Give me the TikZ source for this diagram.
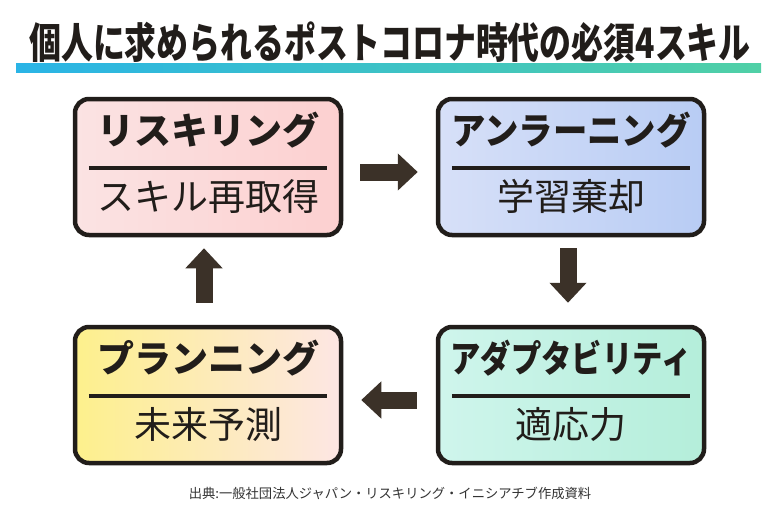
\documentclass[tikz,border=0pt]{standalone}
\usepackage{fontspec}
\usepackage{graphicx}
\setmainfont{Noto Sans CJK JP}
\usetikzlibrary{arrows.meta}
\usetikzlibrary{calc}
\definecolor{inkdark}{HTML}{211D1A}
\definecolor{arrowbrown}{HTML}{3B3128}
\definecolor{notegray}{HTML}{333333}
\definecolor{barblue}{HTML}{2AB4E6}
\definecolor{barteal}{HTML}{50D0A6}
\definecolor{pinkL}{HTML}{FBE3E3}
\definecolor{pinkR}{HTML}{FCD0D0}
\definecolor{blueL}{HTML}{D7E0F8}
\definecolor{blueR}{HTML}{B8CCF4}
\definecolor{yellowL}{HTML}{FDF08C}
\definecolor{yellowR}{HTML}{FDE6E4}
\definecolor{mintL}{HTML}{CFF5EC}
\definecolor{mintR}{HTML}{B4EEDA}
\tikzstyle{skillbox}=[draw=inkdark,line width=4.5pt,rounded corners=14pt,minimum width=266pt,minimum height=136pt,inner sep=0pt]
\tikzstyle{titletext}=[font=\bfseries\fontsize{42}{46}\selectfont,text=inkdark,inner sep=0pt]
\tikzstyle{headtext}=[font=\bfseries\fontsize{37}{40}\selectfont,text=inkdark,inner sep=0pt]
\tikzstyle{subtext}=[font=\fontsize{37}{40}\selectfont,text=inkdark,inner sep=0pt]
\tikzstyle{notetext}=[font=\fontsize{13.3}{15}\selectfont,text=notegray,inner sep=0pt]
\tikzstyle{divider}=[draw=inkdark,line width=4.5pt]
\tikzstyle{bigarrow}=[draw=arrowbrown,line width=17pt,-{Triangle[length=20pt,width=36pt]}]

\begin{document}
\begin{tikzpicture}[x=1pt,y=-1pt]
    \useasboundingbox[fill=white] (0,0) rectangle (780,507);
    % Title and the bar under it
    \node[titletext] (title) at (390,42) {\scalebox{0.76}[1]{個人に求められるポストコロナ時代の必須4スキル}};
    \shade[left color=barblue,right color=barteal] (16,63) rectangle (761,72);

    % First we draw the four boxes
    \foreach \pos/\name/\lcol/\rcol/\head/\hs/\sub in {{(208,167)/reskill/pinkL/pinkR/リスキリング/1/スキル再取得}, {(571,167)/unlearn/blueL/blueR/アンラーニング/0.93/学習棄却}, {(208,395)/plan/yellowL/yellowR/プランニング/1/未来予測}, {(571,395)/adapt/mintL/mintR/アダプタビリティ/0.82/適応力}}
    {
        \node[skillbox,left color=\lcol,right color=\rcol] (\name) at \pos {};
        \node[headtext] (\name-head) at ($(\name.north)+(0,33)$) {\scalebox{\hs}[1]{\head}};
        \draw[divider] ($(\name.north west)+(16,71)$) -- ($(\name.north east)+(-16,71)$);
        \node[subtext] (\name-sub) at ($(\name.north)+(0,100)$) {\sub};
    }

    % Connect boxes with arrows
    \foreach \source/\dest/\sa/\sb/\dx/\dy in {reskill.east/unlearn.west/17/18/0/5, unlearn.south/adapt.north/11/22/-3/0, adapt.west/plan.east/19/18/0/5, plan.north/reskill.south/22/11/-4/0}
        \path[bigarrow,shorten <=\sa pt,shorten >=\sb pt] ([shift={(\dx,\dy)}]\source) -- ([shift={(\dx,\dy)}]\dest);

    \node[notetext] (source) at (390,493) {出典:一般社団法人ジャパン・リスキリング・イニシアチブ作成資料};
\end{tikzpicture}
\end{document}
